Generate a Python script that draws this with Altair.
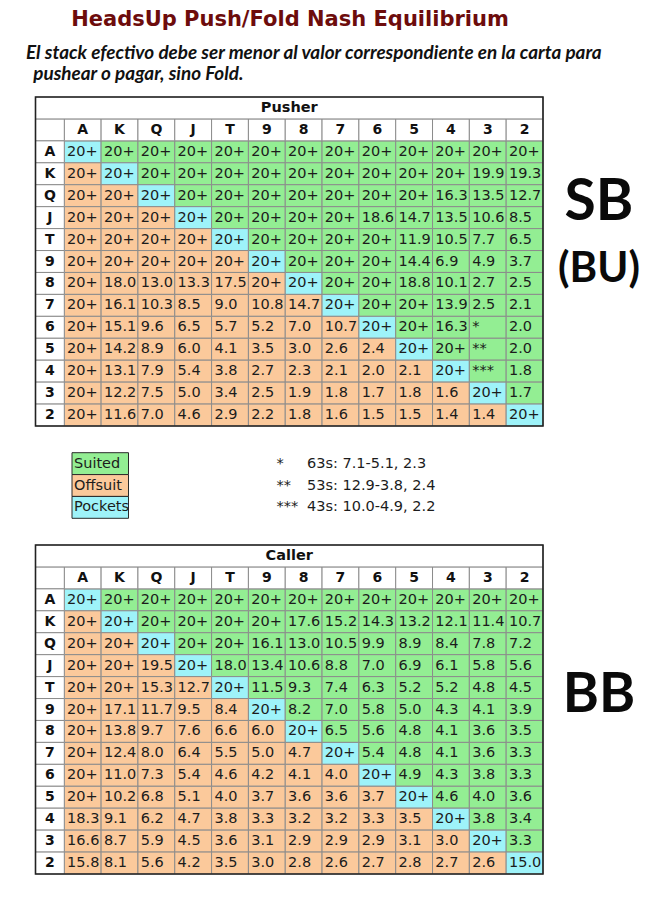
import altair as alt
import pandas as pd

# ---------------- data ----------------
ranks = ["A", "K", "Q", "J", "T", "9", "8", "7", "6", "5", "4", "3", "2"]
kinds = ["Suited", "Offsuit", "Pockets"]
kind_colors = ["#93ee93", "#fbc99b", "#9ef3f9"]

pusher_values = [
    ["20+", "20+", "20+", "20+", "20+", "20+", "20+", "20+", "20+", "20+", "20+", "20+", "20+"],
    ["20+", "20+", "20+", "20+", "20+", "20+", "20+", "20+", "20+", "20+", "20+", "19.9", "19.3"],
    ["20+", "20+", "20+", "20+", "20+", "20+", "20+", "20+", "20+", "20+", "16.3", "13.5", "12.7"],
    ["20+", "20+", "20+", "20+", "20+", "20+", "20+", "20+", "18.6", "14.7", "13.5", "10.6", "8.5"],
    ["20+", "20+", "20+", "20+", "20+", "20+", "20+", "20+", "20+", "11.9", "10.5", "7.7", "6.5"],
    ["20+", "20+", "20+", "20+", "20+", "20+", "20+", "20+", "20+", "14.4", "6.9", "4.9", "3.7"],
    ["20+", "18.0", "13.0", "13.3", "17.5", "20+", "20+", "20+", "20+", "18.8", "10.1", "2.7", "2.5"],
    ["20+", "16.1", "10.3", "8.5", "9.0", "10.8", "14.7", "20+", "20+", "20+", "13.9", "2.5", "2.1"],
    ["20+", "15.1", "9.6", "6.5", "5.7", "5.2", "7.0", "10.7", "20+", "20+", "16.3", "*", "2.0"],
    ["20+", "14.2", "8.9", "6.0", "4.1", "3.5", "3.0", "2.6", "2.4", "20+", "20+", "**", "2.0"],
    ["20+", "13.1", "7.9", "5.4", "3.8", "2.7", "2.3", "2.1", "2.0", "2.1", "20+", "***", "1.8"],
    ["20+", "12.2", "7.5", "5.0", "3.4", "2.5", "1.9", "1.8", "1.7", "1.8", "1.6", "20+", "1.7"],
    ["20+", "11.6", "7.0", "4.6", "2.9", "2.2", "1.8", "1.6", "1.5", "1.5", "1.4", "1.4", "20+"],
]

caller_values = [
    ["20+", "20+", "20+", "20+", "20+", "20+", "20+", "20+", "20+", "20+", "20+", "20+", "20+"],
    ["20+", "20+", "20+", "20+", "20+", "20+", "17.6", "15.2", "14.3", "13.2", "12.1", "11.4", "10.7"],
    ["20+", "20+", "20+", "20+", "20+", "16.1", "13.0", "10.5", "9.9", "8.9", "8.4", "7.8", "7.2"],
    ["20+", "20+", "19.5", "20+", "18.0", "13.4", "10.6", "8.8", "7.0", "6.9", "6.1", "5.8", "5.6"],
    ["20+", "20+", "15.3", "12.7", "20+", "11.5", "9.3", "7.4", "6.3", "5.2", "5.2", "4.8", "4.5"],
    ["20+", "17.1", "11.7", "9.5", "8.4", "20+", "8.2", "7.0", "5.8", "5.0", "4.3", "4.1", "3.9"],
    ["20+", "13.8", "9.7", "7.6", "6.6", "6.0", "20+", "6.5", "5.6", "4.8", "4.1", "3.6", "3.5"],
    ["20+", "12.4", "8.0", "6.4", "5.5", "5.0", "4.7", "20+", "5.4", "4.8", "4.1", "3.6", "3.3"],
    ["20+", "11.0", "7.3", "5.4", "4.6", "4.2", "4.1", "4.0", "20+", "4.9", "4.3", "3.8", "3.3"],
    ["20+", "10.2", "6.8", "5.1", "4.0", "3.7", "3.6", "3.6", "3.7", "20+", "4.6", "4.0", "3.6"],
    ["18.3", "9.1", "6.2", "4.7", "3.8", "3.3", "3.2", "3.2", "3.3", "3.5", "20+", "3.8", "3.4"],
    ["16.6", "8.7", "5.9", "4.5", "3.6", "3.1", "2.9", "2.9", "2.9", "3.1", "3.0", "20+", "3.3"],
    ["15.8", "8.1", "5.6", "4.2", "3.5", "3.0", "2.8", "2.6", "2.7", "2.8", "2.7", "2.6", "15.0"],
]

foot_marks = ["*", "**", "***"]
foot_texts = ["63s: 7.1-5.1, 2.3", "53s: 12.9-3.8, 2.4", "43s: 10.0-4.9, 2.2"]

title_text = "HeadsUp Push/Fold Nash Equilibrium"
subtitle_lines = [
    "El stack efectivo debe ser menor al valor correspondiente en la carta para",
    "pushear o pagar, sino Fold.",
]

# ---------------- layout (chart pixels) ----------------
W, H = 644, 889
X0, XL, X1 = 27.5, 56.3, 535.0      # table left, label-column right, table right
T1 = (89.0, 418.0)                  # pusher table top/bottom
T2 = (537.0, 866.0)                 # caller table top/bottom
LEG = (444.7, 510.3)
FONT = "DejaVu Sans"
GRID = "#8c8c8c"

xscale = alt.Scale(type="band", domain=ranks, range=[XL, X1], paddingInner=0, paddingOuter=0)
color_scale = alt.Scale(domain=kinds, range=kind_colors)


def cell_frame(values):
    rows = []
    for i, r in enumerate(ranks):
        for j, c in enumerate(ranks):
            kind = "Pockets" if i == j else ("Suited" if j > i else "Offsuit")
            rows.append({"row": r, "col": c, "label": values[i][j], "kind": kind})
    return pd.DataFrame(rows)


def table_layers(name, values, ytop, ybot):
    ydom = ["title", "hdr"] + ranks
    ys = alt.Scale(type="band", domain=ydom, range=[ytop, ybot], paddingInner=0, paddingOuter=0)
    cells = cell_frame(values)
    hdr = pd.DataFrame({"col": ranks, "row": ["hdr"] * len(ranks)})
    rl = pd.DataFrame({"row": ["hdr"] + ranks, "label": [""] + ranks})
    ttl = pd.DataFrame({"row": ["title"], "label": [name]})
    box = pd.DataFrame({"row": ["title"]})

    layers = []
    layers.append(
        alt.Chart(cells).mark_rect(stroke=GRID, strokeWidth=1).encode(
            x=alt.X("col:N", scale=xscale, axis=None),
            y=alt.Y("row:N", scale=ys, axis=None),
            fill=alt.Fill("kind:N", scale=color_scale, legend=None),
        )
    )
    layers.append(
        alt.Chart(cells).mark_text(align="left", dx=-15.6, font=FONT, fontSize=14.5, color="#1c1c1c").encode(
            x=alt.X("col:N", scale=xscale, axis=None),
            y=alt.Y("row:N", scale=ys, axis=None),
            text="label:N",
        )
    )
    layers.append(
        alt.Chart(hdr).mark_rect(fill="white", stroke=GRID, strokeWidth=1).encode(
            x=alt.X("col:N", scale=xscale, axis=None),
            y=alt.Y("row:N", scale=ys, axis=None),
        )
    )
    layers.append(
        alt.Chart(hdr).mark_text(font=FONT, fontSize=14, fontWeight="bold", color="#111").encode(
            x=alt.X("col:N", scale=xscale, axis=None),
            y=alt.Y("row:N", scale=ys, axis=None),
            text="col:N",
        )
    )
    layers.append(
        alt.Chart(rl).mark_rect(fill="white", stroke=GRID, strokeWidth=1).encode(
            x=alt.value(X0), x2=alt.value(XL),
            y=alt.Y("row:N", scale=ys, axis=None),
        )
    )
    layers.append(
        alt.Chart(rl).mark_text(font=FONT, fontSize=14, fontWeight="bold", color="#111").encode(
            x=alt.value((X0 + XL) / 2),
            y=alt.Y("row:N", scale=ys, axis=None),
            text="label:N",
        )
    )
    layers.append(
        alt.Chart(ttl).mark_rect(fill="white", stroke=GRID, strokeWidth=1).encode(
            x=alt.value(X0), x2=alt.value(X1),
            y=alt.Y("row:N", scale=ys, axis=None),
        )
    )
    layers.append(
        alt.Chart(ttl).mark_text(font=FONT, fontSize=14.5, fontWeight="bold", color="#111").encode(
            x=alt.value((X0 + X1) / 2),
            y=alt.Y("row:N", scale=ys, axis=None),
            text="label:N",
        )
    )
    layers.append(
        alt.Chart(box).mark_rect(fillOpacity=0, stroke="#222", strokeWidth=1.6).encode(
            x=alt.value(X0), x2=alt.value(X1),
            y=alt.value(ytop), y2=alt.value(ybot),
        )
    )
    return layers


layers = []
layers += table_layers("Pusher", pusher_values, *T1)
layers += table_layers("Caller", caller_values, *T2)

# legend boxes
leg_df = pd.DataFrame({"kind": kinds})
leg_scale = alt.Scale(type="band", domain=kinds, range=list(LEG), paddingInner=0, paddingOuter=0)
layers.append(
    alt.Chart(leg_df).mark_rect(stroke="#2a2a2a", strokeWidth=1).encode(
        x=alt.value(64), x2=alt.value(120.5),
        y=alt.Y("kind:N", scale=leg_scale, axis=None),
        fill=alt.Fill("kind:N", scale=color_scale, legend=None),
    )
)
layers.append(
    alt.Chart(leg_df).mark_text(align="left", font=FONT, fontSize=14.5, color="#1c1c1c").encode(
        x=alt.value(66),
        y=alt.Y("kind:N", scale=leg_scale, axis=None),
        text="kind:N",
    )
)

# footnotes
foot_df = pd.DataFrame({"mark": foot_marks, "text": foot_texts})
foot_scale = alt.Scale(type="band", domain=foot_marks, range=list(LEG), paddingInner=0, paddingOuter=0)
layers.append(
    alt.Chart(foot_df).mark_text(align="left", font=FONT, fontSize=14.5, color="#1c1c1c").encode(
        x=alt.value(268.5),
        y=alt.Y("mark:N", scale=foot_scale, axis=None),
        text="mark:N",
    )
)
layers.append(
    alt.Chart(foot_df).mark_text(align="left", font=FONT, fontSize=14.5, color="#1c1c1c").encode(
        x=alt.value(299),
        y=alt.Y("mark:N", scale=foot_scale, axis=None),
        text="text:N",
    )
)

# title and subtitle
layers.append(
    alt.Chart(pd.DataFrame({"t": [title_text]})).mark_text(
        align="center", baseline="alphabetic", font=FONT, fontSize=21, fontWeight="bold", color="#6d0c0c"
    ).encode(x=alt.value(282), y=alt.value(17.5), text="t:N")
)
layers.append(
    alt.Chart(pd.DataFrame({"t": [subtitle_lines[0]]})).mark_text(
        align="left", baseline="alphabetic", font="Lato", fontSize=18.9, fontWeight="bold",
        fontStyle="italic", color="#111"
    ).encode(x=alt.value(18), y=alt.value(51.3), text="t:N")
)
layers.append(
    alt.Chart(pd.DataFrame({"t": [subtitle_lines[1]]})).mark_text(
        align="left", baseline="alphabetic", font="Lato", fontSize=18.9, fontWeight="bold",
        fontStyle="italic", color="#111"
    ).encode(x=alt.value(25.3), y=alt.value(72), text="t:N")
)

# side labels
side = [("SB", 212, 57), ("(BU)", 274, 42), ("BB", 703.5, 55)]
for label, ypos, size in side:
    layers.append(
        alt.Chart(pd.DataFrame({"t": [label]})).mark_text(
            align="center", baseline="alphabetic", font="Lato", fontSize=size, fontWeight="bold", color="#0a0a0a"
        ).encode(x=alt.value(591), y=alt.value(ypos), text="t:N")
    )

chart = (
    alt.layer(*layers)
    .resolve_scale(y="independent")
    .properties(width=W, height=H, autosize=alt.AutoSizeParams(type="none"), padding=0)
    .configure_view(stroke=None)
)

chart.save("out.html", embed_options={"renderer": "svg", "actions": False})
